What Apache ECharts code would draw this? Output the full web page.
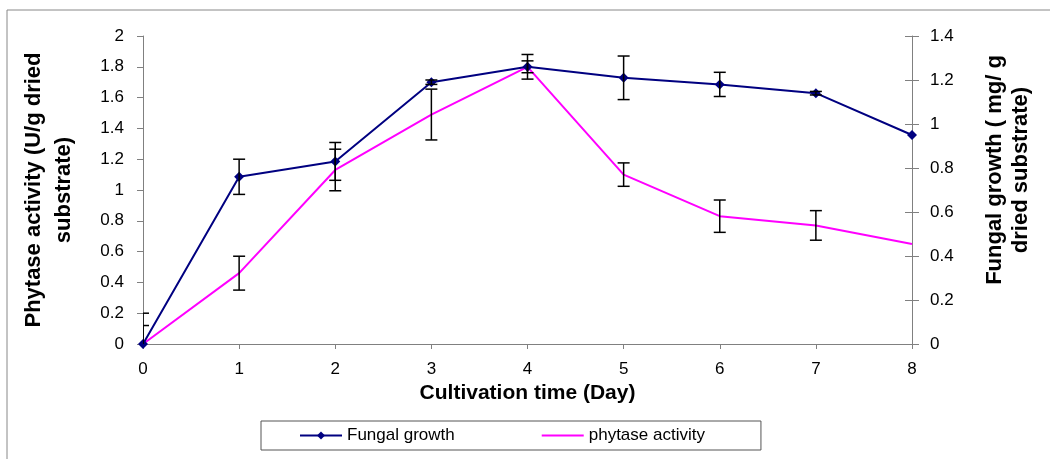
<!DOCTYPE html>
<html>
<head>
<meta charset="utf-8">
<style>
  html, body { margin: 0; padding: 0; background: #fff; }
  #chart { width: 1050px; height: 459px; }
</style>
<script src="https://cdn.jsdelivr.net/npm/echarts@6/dist/echarts.min.js"></script>
</head>
<body>
<div id="chart"></div>
<script>
// cultivation days
var days = [0, 1, 2, 3, 4, 5, 6, 7, 8]
// fungal growth (mg/g dried substrate), right axis
var fungal = [0, 0.76, 0.83, 1.19, 1.26, 1.21, 1.18, 1.14, 0.95]
var fungalErr = [0.14, 0.08, 0.086, 0.01, 0.027, 0.099, 0.055, 0.008, 0]
// phytase activity (U/g dried substrate), left axis
var phytase = [0, 0.46, 1.13, 1.49, 1.8, 1.1, 0.83, 0.77, 0.65]
var phytaseErr = [0.12, 0.11, 0.135, 0.165, 0.08, 0.076, 0.105, 0.096, 0]

var font = 'Liberation Sans, Arial, sans-serif'

function errData(vals, errs) {
  return days.map(function (d, i) {
    return [d, vals[i] - errs[i], vals[i] + errs[i]]
  }).filter(function (r, i) { return errs[i] > 0 })
}

// vertical error bar with caps
function errRender(params, api) {
  var lo = api.coord([api.value(0), api.value(1)])
  var hi = api.coord([api.value(0), api.value(2)])
  var w = 6
  var st = { stroke: '#000', lineWidth: 1.5 }
  return {
    type: 'group',
    children: [
      { type: 'line', shape: { x1: lo[0], y1: lo[1], x2: hi[0], y2: hi[1] }, style: st },
      { type: 'line', shape: { x1: lo[0] - w, y1: lo[1], x2: lo[0] + w, y2: lo[1] }, style: st },
      { type: 'line', shape: { x1: hi[0] - w, y1: hi[1], x2: hi[0] + w, y2: hi[1] }, style: st }
    ]
  }
}

var axisGray = '#808080'

var chart = echarts.init(document.getElementById('chart'))
chart.setOption({
  animation: false,
  textStyle: { fontFamily: font },
  graphic: [{
    type: 'rect',
    shape: { x: 7, y: 10, width: 1100, height: 470 },
    style: { fill: 'none', stroke: '#888', lineWidth: 1 },
    silent: true
  }],
  grid: { left: 143, right: 138, top: 36, bottom: 115 },
  legend: {
    left: 261,
    top: 421,
    itemWidth: 42,
    itemHeight: 10,
    itemGap: 86,
    padding: [6, 56, 6, 38],
    borderColor: '#555',
    borderWidth: 1,
    textStyle: { fontSize: 17, color: '#000', fontFamily: font },
    data: ['Fungal growth', { name: 'phytase activity', itemStyle: { opacity: 0 } }]
  },
  xAxis: {
    type: 'value',
    min: 0,
    max: 8,
    interval: 1,
    name: 'Cultivation time (Day)',
    nameLocation: 'middle',
    nameGap: 34,
    nameTextStyle: { fontSize: 21, fontWeight: 'bold', color: '#000' },
    splitLine: { show: false },
    axisLine: { lineStyle: { color: axisGray } },
    axisTick: { length: 5, lineStyle: { color: axisGray } },
    axisLabel: { fontSize: 17, color: '#000', margin: 17 }
  },
  yAxis: [{
    type: 'value',
    min: 0,
    max: 2,
    interval: 0.2,
    position: 'left',
    name: 'Phytase activity (U/g dried\nsubstrate)',
    nameLocation: 'middle',
    nameGap: 64,
    nameTextStyle: { fontSize: 22, fontWeight: 'bold', color: '#000', lineHeight: 30 },
    splitLine: { show: false },
    axisLine: { show: true, lineStyle: { color: axisGray } },
    axisTick: { show: true, length: 6, lineStyle: { color: axisGray } },
    axisLabel: { fontSize: 17, color: '#000', margin: 19 }
  }, {
    type: 'value',
    min: 0,
    max: 1.4,
    interval: 0.2,
    position: 'right',
    name: 'Fungal growth ( mg/ g\ndried substrate)',
    nameLocation: 'middle',
    nameRotate: 90,
    nameGap: 70,
    nameTextStyle: { fontSize: 22, fontWeight: 'bold', color: '#000', lineHeight: 26, padding: [0, 0, 0, 40] },
    splitLine: { show: false },
    axisLine: { show: true, lineStyle: { color: axisGray } },
    axisTick: { show: true, length: 7, lineStyle: { color: axisGray } },
    axisLabel: { fontSize: 17, color: '#000', margin: 18 }
  }, {
    // inner half of the crossing ticks on the right axis
    type: 'value',
    min: 0,
    max: 1.4,
    interval: 0.2,
    position: 'right',
    splitLine: { show: false },
    axisLine: { show: false },
    axisTick: { show: true, inside: true, length: 7, lineStyle: { color: axisGray } },
    axisLabel: { show: false }
  }],
  series: [{
    name: 'phytase activity',
    type: 'line',
    yAxisIndex: 0,
    symbol: 'none',
    lineStyle: { color: '#FF00FF', width: 2 },
    itemStyle: { color: '#FF00FF' },
    data: days.map(function (d, i) { return [d, phytase[i]] })
  }, {
    name: 'Fungal growth',
    type: 'line',
    yAxisIndex: 1,
    symbol: 'diamond',
    symbolSize: 10,
    lineStyle: { color: '#000080', width: 2 },
    itemStyle: { color: '#000080' },
    data: days.map(function (d, i) { return [d, fungal[i]] })
  }, {
    type: 'custom',
    yAxisIndex: 0,
    clip: true,
    renderItem: errRender,
    data: errData(phytase, phytaseErr),
    z: 5
  }, {
    type: 'custom',
    yAxisIndex: 1,
    clip: true,
    renderItem: errRender,
    data: errData(fungal, fungalErr),
    z: 5
  }]
})
</script>
</body>
</html>
